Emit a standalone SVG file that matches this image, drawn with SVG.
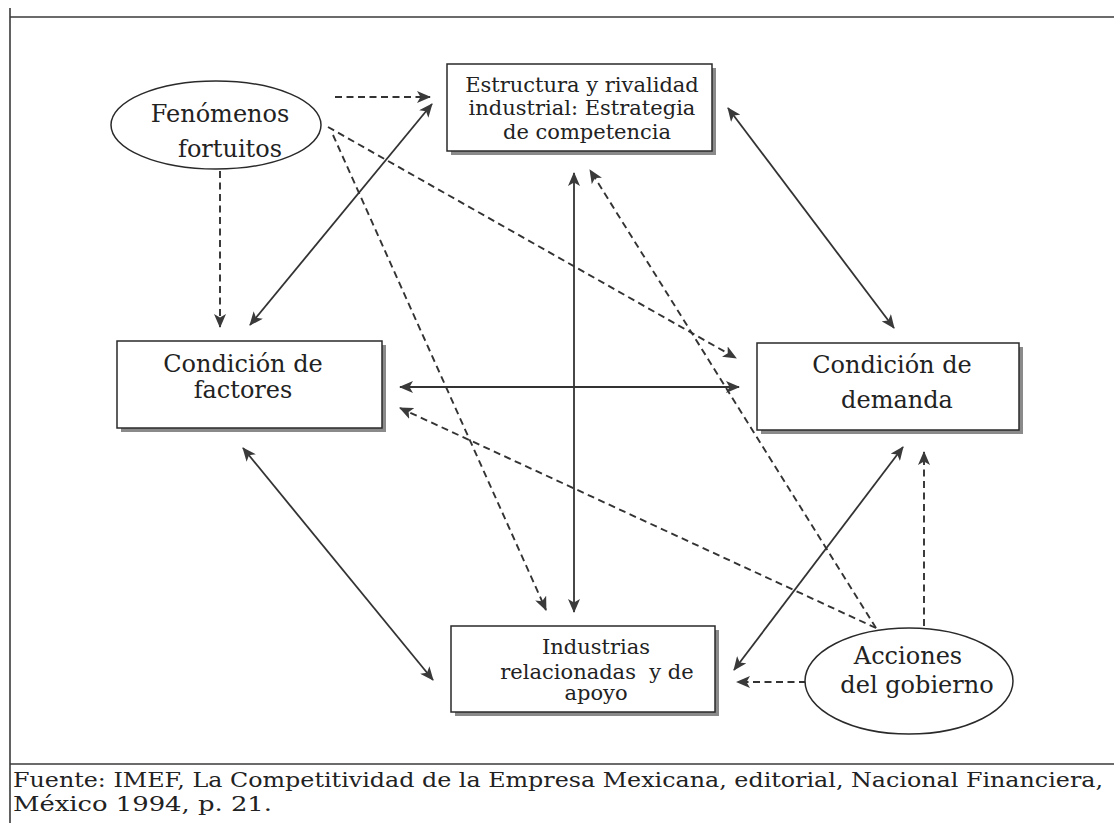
<svg xmlns="http://www.w3.org/2000/svg" width="1114" height="823" viewBox="0 0 1114 823">
<style>
.frame{stroke:#3a3a3a;stroke-width:1.6;fill:none}
.shadow{fill:#8a8a8a}
.box{fill:#fff;stroke:#2a2a2a;stroke-width:1.5}
.ell{fill:#fff;stroke:#2a2a2a;stroke-width:1.5}
.t{font-family:"DejaVu Serif","Liberation Serif",serif;fill:#222;text-anchor:middle}
.big{font-size:24px}
.small{font-size:21px}
.solid{stroke:#333;stroke-width:1.8;fill:none;marker-end:url(#ah);marker-start:url(#ah)}
.dash{stroke:#333;stroke-width:1.9;fill:none;stroke-dasharray:7 4.5;marker-end:url(#ah)}
.foot{font-family:"DejaVu Serif","Liberation Serif",serif;font-size:21px;fill:#222}
</style>
<defs>
<marker id="ah" viewBox="0 0 14 12" refX="13" refY="6" markerWidth="14" markerHeight="12" markerUnits="userSpaceOnUse" orient="auto-start-reverse">
<path d="M0,0 L14,6 L0,12 L3.5,6 z" fill="#3a3a3a"/>
</marker>
</defs>
<rect width="1114" height="823" fill="#fff"/>
<g id="frame">
<line class="frame" x1="10" y1="8" x2="10" y2="823"/>
<line class="frame" x1="10" y1="17" x2="1114" y2="17"/>
<line class="frame" x1="10" y1="764" x2="1114" y2="764"/>
</g>
<g id="connectors">
<line class="solid" x1="250" y1="325" x2="432" y2="104"/>
<line class="solid" x1="728" y1="108" x2="894" y2="328"/>
<line class="solid" x1="574" y1="173" x2="574" y2="612"/>
<line class="solid" x1="400" y1="387" x2="739" y2="387"/>
<line class="solid" x1="243" y1="448" x2="433" y2="680"/>
<line class="solid" x1="903" y1="447" x2="734" y2="670"/>
<line class="dash" x1="335" y1="97" x2="430" y2="97"/>
<line class="dash" x1="220" y1="171" x2="220" y2="327"/>
<line class="dash" x1="328" y1="127" x2="736" y2="358"/>
<line class="dash" x1="333" y1="135" x2="546" y2="610"/>
<line class="dash" x1="876" y1="628" x2="590" y2="170"/>
<line class="dash" x1="876" y1="628" x2="400" y2="408"/>
<line class="dash" x1="924" y1="626" x2="924" y2="452"/>
<line class="dash" x1="806" y1="682" x2="737" y2="682"/>
</g>
<g id="fenomenos">
<ellipse class="ell" cx="216" cy="125" rx="105" ry="44"/>
<text class="t big" x="220" y="122">Fenómenos</text>
<text class="t big" x="230" y="157">fortuitos</text>
</g>
<g id="estructura">
<rect class="shadow" x="451" y="68" width="265" height="87"/>
<rect class="box" x="447" y="64" width="265" height="87"/>
<text class="t small" x="582" y="92">Estructura y rivalidad</text>
<text class="t small" x="582" y="115">industrial: Estrategia</text>
<text class="t small" x="587" y="139">de competencia</text>
</g>
<g id="factores">
<rect class="shadow" x="121" y="345" width="265" height="87"/>
<rect class="box" x="117" y="341" width="265" height="87"/>
<text class="t big" x="243" y="372">Condición de</text>
<text class="t big" x="243" y="398">factores</text>
</g>
<g id="demanda">
<rect class="shadow" x="761" y="347" width="262" height="87"/>
<rect class="box" x="757" y="343" width="262" height="87"/>
<text class="t big" x="892" y="373">Condición de</text>
<text class="t big" x="897" y="408">demanda</text>
</g>
<g id="industrias">
<rect class="shadow" x="455" y="630" width="264" height="86"/>
<rect class="box" x="451" y="626" width="264" height="86"/>
<text class="t small" x="596" y="654">Industrias</text>
<text class="t small" x="597" y="679" xml:space="preserve">relacionadas  y de</text>
<text class="t small" x="596" y="700">apoyo</text>
</g>
<g id="acciones">
<ellipse class="ell" cx="909" cy="681" rx="104" ry="53"/>
<text class="t big" x="908" y="664">Acciones</text>
<text class="t big" x="917" y="693">del gobierno</text>
</g>
<g id="fuente">
<text class="foot" x="13" y="787" textLength="1090" lengthAdjust="spacingAndGlyphs">Fuente: IMEF, La Competitividad de la Empresa Mexicana, editorial, Nacional Financiera,</text>
<text class="foot" x="13" y="811" textLength="259" lengthAdjust="spacingAndGlyphs">México 1994, p. 21.</text>
</g>
</svg>
